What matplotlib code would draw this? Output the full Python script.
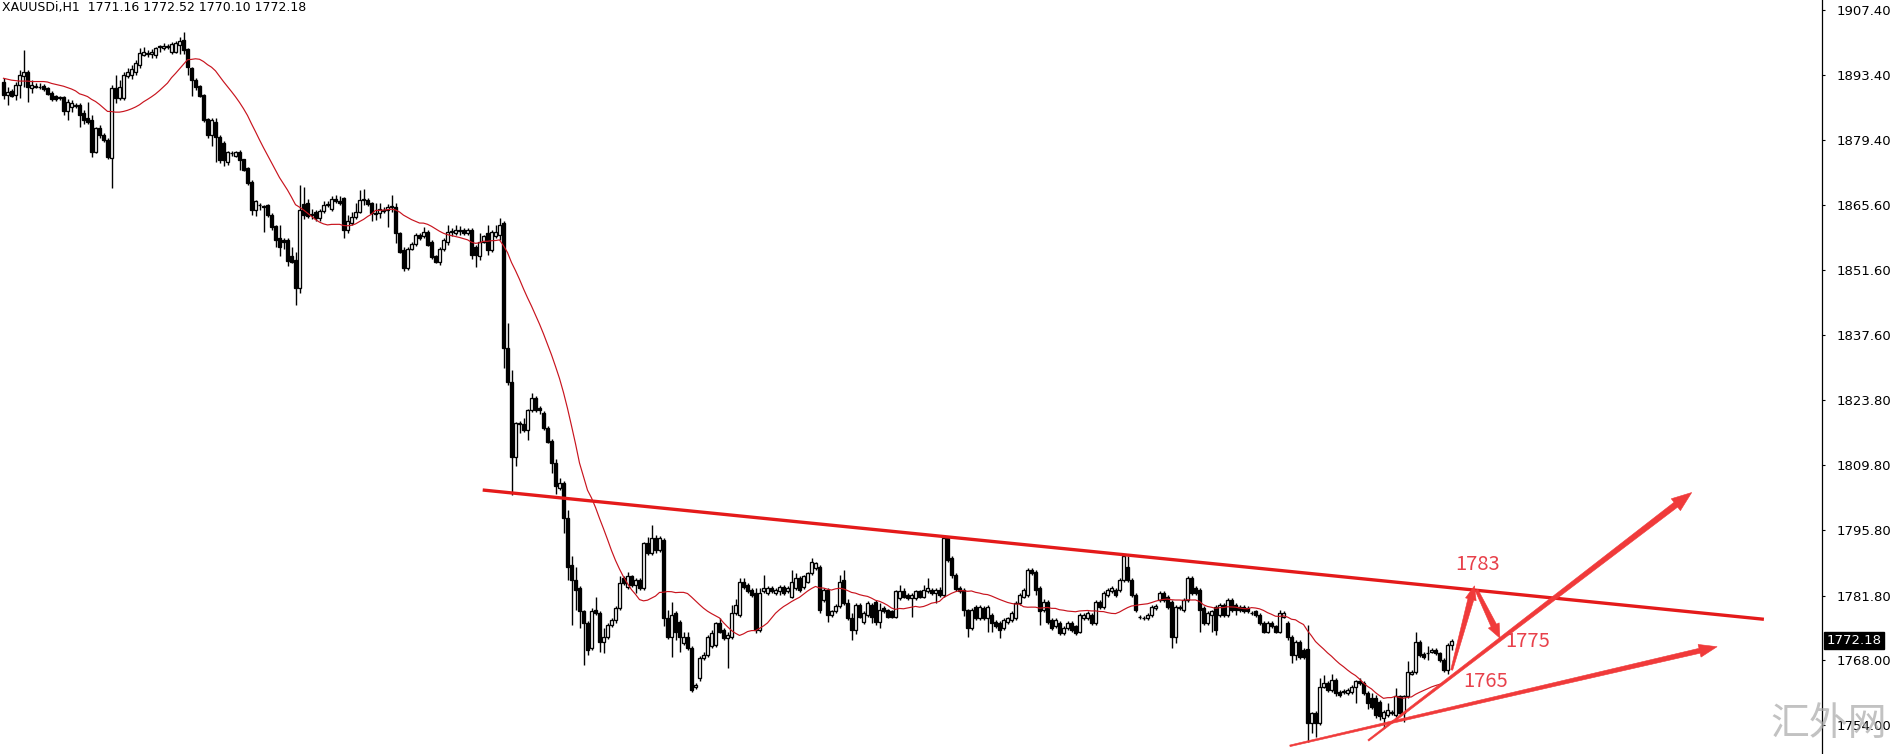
import numpy as np
import pandas as pd
import matplotlib
matplotlib.use("Agg")
import matplotlib.pyplot as plt
from matplotlib.patches import Polygon
from matplotlib.transforms import IdentityTransform

# ---------------- data (XAUUSDi, H1 candles) ----------------
opens = [
    1892.0, 1889.1, 1890.0, 1889.1, 1891.3, 1893.1, 1894.1, 1890.7, 1891.1, 1890.9, 1891.1, 1890.6, 1889.6, 1888.8, 1888.6, 1888.6, 1885.6, 1886.6, 1886.8, 1887.0,
    1885.2, 1884.1, 1883.8, 1877.0, 1882.0, 1880.6, 1879.5, 1875.6, 1890.6, 1888.4, 1888.4, 1893.2, 1893.4, 1894.1, 1895.6, 1897.7, 1898.0, 1897.8, 1897.7, 1899.5,
    1899.1, 1899.4, 1898.3, 1898.4, 1899.8, 1900.8, 1898.9, 1894.8, 1892.3, 1891.1, 1889.1, 1883.9, 1880.6, 1883.4, 1880.2, 1878.9, 1874.8, 1876.6, 1876.1, 1877.0,
    1875.3, 1873.4, 1870.5, 1864.5, 1865.5, 1865.4, 1865.5, 1863.4, 1861.0, 1858.4, 1858.0, 1858.0, 1854.5, 1853.8, 1847.7, 1865.8, 1866.0, 1863.6, 1864.0, 1862.7,
    1864.2, 1865.6, 1864.6, 1866.8, 1866.5, 1867.0, 1860.2, 1861.6, 1863.0, 1864.1, 1866.6, 1866.6, 1865.9, 1863.7, 1863.8, 1864.2, 1864.5, 1865.1, 1865.2, 1859.5,
    1855.9, 1852.0, 1856.2, 1857.2, 1859.1, 1858.8, 1859.8, 1857.7, 1854.6, 1853.4, 1856.0, 1857.7, 1859.8, 1859.5, 1860.0, 1860.2, 1859.5, 1860.2, 1856.6, 1854.5,
    1857.7, 1859.5, 1855.9, 1858.8, 1859.1, 1861.6, 1834.8, 1827.7, 1811.6, 1818.6, 1818.6, 1817.3, 1821.6, 1824.1, 1822.0, 1821.0, 1817.7, 1815.0, 1810.3, 1804.8,
    1806.0, 1798.4, 1788.4, 1785.2, 1783.4, 1778.4, 1776.0, 1770.5, 1778.7, 1778.0, 1771.9, 1773.0, 1775.5, 1776.6, 1779.1, 1785.5, 1783.7, 1785.9, 1784.1, 1785.2,
    1783.4, 1793.0, 1790.9, 1794.1, 1791.6, 1793.7, 1776.9, 1773.0, 1778.0, 1776.2, 1771.6, 1773.0, 1770.5, 1762.2, 1764.1, 1768.4, 1769.1, 1770.9, 1771.2, 1775.9,
    1774.4, 1772.7, 1773.0, 1778.0, 1777.7, 1784.8, 1784.1, 1783.0, 1782.3, 1774.4, 1782.7, 1782.3, 1783.4, 1782.3, 1782.7, 1783.7, 1782.7, 1781.6, 1783.4, 1785.5,
    1783.7, 1784.8, 1786.6, 1787.7, 1788.0, 1780.9, 1783.0, 1777.7, 1778.4, 1779.5, 1785.2, 1780.2, 1777.0, 1774.5, 1779.8, 1776.2, 1777.7, 1779.8, 1780.5, 1776.2,
    1779.1, 1778.7, 1778.4, 1777.3, 1781.2, 1782.7, 1781.9, 1781.2, 1781.2, 1782.7, 1781.6, 1782.7, 1783.0, 1782.3, 1783.0, 1782.0, 1794.1, 1789.8, 1786.2, 1783.4,
    1783.0, 1778.7, 1774.8, 1779.4, 1776.9, 1779.1, 1776.9, 1777.7, 1776.2, 1775.9, 1774.8, 1776.2, 1776.6, 1776.9, 1780.2, 1781.6, 1781.9, 1787.3, 1786.9, 1783.4,
    1778.7, 1780.5, 1776.6, 1775.2, 1775.9, 1773.7, 1774.8, 1775.9, 1775.2, 1774.1, 1776.9, 1776.9, 1777.7, 1775.9, 1780.5, 1779.4, 1781.9, 1782.7, 1783.0, 1783.0,
    1785.2, 1788.0, 1785.2, 1781.9, 1777.3, 1776.9, 1776.9, 1777.7, 1779.1, 1780.9, 1782.3, 1781.6, 1780.5, 1773.0, 1779.1, 1778.7, 1780.9, 1785.5, 1783.4, 1783.0,
    1779.1, 1775.9, 1777.7, 1779.4, 1777.7, 1779.8, 1777.7, 1780.9, 1779.8, 1779.4, 1779.4, 1779.1, 1778.0, 1778.4, 1777.7, 1775.9, 1774.1, 1775.9, 1775.2, 1774.1,
    1777.3, 1775.9, 1773.0, 1769.1, 1771.9, 1770.1, 1770.3, 1754.4, 1756.6, 1754.4, 1762.3, 1763.0, 1761.6, 1763.7, 1761.2, 1761.2, 1760.9, 1761.2, 1762.3, 1763.4,
    1763.0, 1760.9, 1759.8, 1759.8, 1759.1, 1755.5, 1756.2, 1756.6, 1756.2, 1760.2, 1756.6, 1760.2, 1765.1, 1765.5, 1771.9, 1769.3, 1769.4, 1769.8, 1770.1, 1769.4,
    1768.0, 1765.9, 1771.16,
]
highs = [
    1892.8, 1890.9, 1890.5, 1892.0, 1894.5, 1898.8, 1894.5, 1892.3, 1891.6, 1891.6, 1891.5, 1890.9, 1890.0, 1889.2, 1889.0, 1888.9, 1888.2, 1888.0, 1887.4, 1887.3,
    1886.0, 1887.7, 1884.8, 1882.3, 1882.6, 1881.0, 1880.0, 1891.3, 1893.4, 1892.3, 1894.0, 1895.0, 1895.5, 1896.6, 1899.2, 1899.5, 1898.8, 1899.0, 1899.5, 1899.9,
    1900.3, 1900.0, 1900.5, 1900.6, 1901.6, 1902.7, 1899.1, 1895.2, 1892.7, 1891.3, 1889.3, 1884.1, 1884.1, 1884.1, 1880.5, 1879.2, 1877.2, 1877.2, 1877.2, 1877.3,
    1875.5, 1873.6, 1870.9, 1866.6, 1866.0, 1865.6, 1865.8, 1863.8, 1861.2, 1861.2, 1858.4, 1858.4, 1856.6, 1855.5, 1869.8, 1869.4, 1866.8, 1864.6, 1864.5, 1864.6,
    1866.5, 1866.3, 1867.5, 1867.7, 1867.5, 1867.3, 1863.4, 1864.0, 1865.9, 1868.8, 1868.9, 1867.0, 1866.2, 1865.9, 1865.9, 1865.0, 1865.8, 1867.7, 1865.9, 1859.8,
    1856.6, 1856.6, 1857.7, 1859.5, 1859.5, 1860.8, 1860.2, 1858.0, 1854.8, 1856.6, 1858.4, 1861.2, 1860.5, 1861.2, 1861.0, 1860.7, 1860.6, 1860.6, 1857.0, 1859.5,
    1859.2, 1861.2, 1860.2, 1861.2, 1862.7, 1862.0, 1840.2, 1830.2, 1819.1, 1819.2, 1819.8, 1821.9, 1825.2, 1824.5, 1822.5, 1821.4, 1818.1, 1815.3, 1811.0, 1807.0,
    1806.4, 1800.2, 1790.2, 1788.0, 1783.8, 1778.8, 1776.3, 1779.1, 1781.6, 1778.4, 1774.8, 1776.0, 1777.0, 1779.5, 1785.9, 1785.9, 1786.9, 1786.3, 1785.6, 1785.6,
    1793.4, 1794.4, 1796.9, 1794.8, 1794.5, 1794.1, 1778.7, 1780.5, 1778.4, 1776.6, 1774.1, 1774.1, 1770.9, 1763.0, 1768.8, 1769.8, 1773.4, 1774.4, 1776.2, 1776.9,
    1774.8, 1774.1, 1779.8, 1781.0, 1785.5, 1785.5, 1784.5, 1783.4, 1783.4, 1783.4, 1786.2, 1783.8, 1783.8, 1783.4, 1784.1, 1784.1, 1783.8, 1787.3, 1786.6, 1785.9,
    1786.3, 1786.9, 1789.8, 1789.1, 1788.4, 1783.4, 1783.4, 1778.8, 1779.9, 1786.2, 1787.3, 1781.0, 1778.0, 1780.2, 1780.2, 1778.4, 1780.6, 1780.2, 1780.9, 1780.2,
    1779.5, 1779.0, 1778.8, 1783.1, 1784.1, 1783.4, 1782.3, 1782.3, 1783.0, 1783.0, 1784.1, 1785.5, 1783.4, 1783.4, 1783.6, 1794.8, 1794.5, 1790.2, 1786.6, 1783.8,
    1783.4, 1779.0, 1779.1, 1779.8, 1779.8, 1779.5, 1779.8, 1778.1, 1776.6, 1776.3, 1777.0, 1777.3, 1778.4, 1780.6, 1782.3, 1783.4, 1787.8, 1787.8, 1787.3, 1783.8,
    1781.0, 1780.9, 1777.0, 1777.0, 1776.3, 1775.2, 1776.3, 1776.3, 1775.6, 1778.1, 1778.1, 1778.4, 1778.1, 1780.9, 1780.9, 1782.7, 1783.4, 1783.8, 1783.4, 1785.6,
    1790.6, 1790.2, 1785.6, 1782.3, 1777.7, 1777.4, 1778.1, 1779.8, 1780.0, 1782.7, 1782.7, 1782.0, 1780.9, 1779.8, 1779.8, 1781.3, 1785.9, 1785.9, 1783.8, 1783.4,
    1779.5, 1778.4, 1778.8, 1779.8, 1780.2, 1780.2, 1781.3, 1781.3, 1780.2, 1779.8, 1779.8, 1779.5, 1778.4, 1778.8, 1778.1, 1776.3, 1776.3, 1776.3, 1775.6, 1778.7,
    1778.4, 1776.3, 1773.4, 1772.3, 1772.3, 1770.5, 1775.5, 1756.9, 1757.0, 1764.1, 1764.8, 1763.4, 1765.1, 1764.1, 1761.6, 1761.7, 1762.0, 1762.7, 1763.8, 1764.1,
    1763.4, 1761.3, 1760.9, 1760.5, 1759.5, 1757.3, 1758.7, 1757.3, 1761.9, 1760.5, 1760.5, 1767.7, 1765.9, 1774.1, 1772.3, 1769.7, 1770.9, 1770.5, 1770.5, 1769.8,
    1768.4, 1771.6, 1772.52,
]
lows = [
    1888.2, 1887.0, 1888.6, 1888.0, 1888.4, 1890.9, 1887.7, 1889.5, 1890.6, 1890.4, 1890.0, 1889.1, 1887.8, 1887.9, 1888.1, 1884.8, 1883.8, 1885.5, 1886.3, 1882.3,
    1883.0, 1883.0, 1875.9, 1876.6, 1879.8, 1879.0, 1875.5, 1869.1, 1887.3, 1888.0, 1888.0, 1892.8, 1892.6, 1893.4, 1895.0, 1897.5, 1897.3, 1897.0, 1897.0, 1898.4,
    1898.8, 1898.9, 1898.0, 1898.1, 1898.0, 1898.0, 1893.4, 1888.8, 1890.2, 1888.6, 1883.4, 1880.0, 1878.1, 1874.8, 1874.5, 1874.0, 1874.1, 1876.0, 1875.8, 1873.1,
    1872.8, 1869.8, 1863.4, 1863.1, 1864.5, 1859.8, 1863.0, 1860.2, 1856.6, 1854.5, 1856.0, 1852.5, 1853.0, 1844.1, 1846.6, 1862.6, 1862.8, 1862.6, 1862.0, 1862.2,
    1863.8, 1865.0, 1864.2, 1866.0, 1865.5, 1858.4, 1859.5, 1861.2, 1862.6, 1863.8, 1865.5, 1865.3, 1862.0, 1862.3, 1862.7, 1863.8, 1860.9, 1864.1, 1857.3, 1855.2,
    1851.3, 1851.6, 1855.8, 1856.8, 1858.0, 1858.4, 1856.8, 1854.0, 1853.0, 1852.7, 1855.6, 1857.0, 1858.8, 1859.0, 1859.1, 1859.0, 1859.1, 1854.0, 1852.3, 1853.8,
    1857.3, 1854.8, 1855.5, 1858.4, 1858.0, 1830.5, 1827.0, 1803.4, 1809.5, 1816.6, 1816.9, 1815.2, 1821.2, 1821.2, 1820.8, 1817.3, 1814.5, 1808.0, 1803.5, 1804.4,
    1795.2, 1785.2, 1775.5, 1778.7, 1774.8, 1767.0, 1769.1, 1770.1, 1777.6, 1769.8, 1769.4, 1772.6, 1775.1, 1775.9, 1778.7, 1784.0, 1783.3, 1783.7, 1782.3, 1783.0,
    1783.0, 1790.5, 1790.5, 1790.9, 1791.2, 1775.2, 1772.6, 1768.7, 1772.3, 1769.8, 1771.2, 1770.1, 1761.2, 1761.8, 1763.4, 1768.0, 1768.7, 1770.5, 1770.8, 1773.7,
    1772.3, 1766.2, 1772.6, 1777.6, 1777.3, 1783.3, 1782.3, 1781.5, 1773.7, 1774.0, 1782.3, 1781.9, 1782.3, 1781.9, 1782.0, 1781.9, 1782.3, 1781.2, 1783.0, 1782.6,
    1783.3, 1784.4, 1786.2, 1787.3, 1778.0, 1780.5, 1776.2, 1777.3, 1778.0, 1779.1, 1779.8, 1776.5, 1772.3, 1773.5, 1777.0, 1775.8, 1777.3, 1775.9, 1775.5, 1774.8,
    1778.0, 1776.9, 1776.9, 1777.0, 1780.9, 1781.3, 1780.9, 1777.3, 1780.9, 1781.2, 1781.2, 1782.3, 1781.9, 1780.2, 1781.5, 1781.6, 1789.0, 1785.5, 1782.7, 1782.3,
    1777.5, 1773.0, 1774.4, 1776.5, 1776.5, 1776.5, 1774.1, 1774.1, 1774.8, 1772.7, 1774.4, 1775.8, 1776.2, 1776.5, 1779.8, 1781.2, 1781.5, 1786.2, 1781.9, 1775.5,
    1778.3, 1775.8, 1774.4, 1774.8, 1773.3, 1773.3, 1774.4, 1774.0, 1773.3, 1773.7, 1776.5, 1776.5, 1775.5, 1775.5, 1779.0, 1779.0, 1781.5, 1782.3, 1781.6, 1782.6,
    1784.8, 1784.8, 1781.5, 1778.3, 1776.8, 1776.5, 1776.5, 1777.3, 1778.7, 1780.5, 1780.5, 1779.0, 1770.5, 1771.6, 1778.7, 1778.3, 1780.5, 1781.9, 1781.9, 1774.1,
    1775.5, 1775.5, 1774.1, 1773.4, 1777.3, 1777.3, 1777.3, 1778.3, 1777.7, 1778.3, 1778.0, 1778.0, 1777.6, 1777.3, 1775.5, 1773.7, 1773.7, 1774.8, 1773.7, 1773.7,
    1776.9, 1772.3, 1767.3, 1768.0, 1768.3, 1768.3, 1750.5, 1752.3, 1751.5, 1754.0, 1761.9, 1761.2, 1761.2, 1760.2, 1760.1, 1760.8, 1760.5, 1760.8, 1758.7, 1762.6,
    1760.5, 1757.6, 1757.6, 1755.5, 1755.2, 1753.4, 1755.8, 1756.2, 1755.8, 1756.2, 1754.8, 1759.8, 1764.7, 1765.1, 1768.7, 1768.3, 1768.0, 1769.4, 1769.0, 1767.6,
    1765.5, 1765.1, 1770.10,
]
closes = [
    1889.1, 1889.8, 1888.9, 1891.3, 1893.4, 1894.1, 1890.9, 1891.3, 1890.9, 1890.8, 1890.4, 1889.3, 1888.2, 1888.2, 1888.5, 1885.6, 1887.7, 1887.3, 1886.9, 1884.8,
    1883.8, 1883.4, 1877.0, 1882.0, 1880.6, 1879.5, 1875.8, 1890.6, 1888.4, 1890.9, 1893.4, 1894.1, 1894.6, 1895.9, 1898.1, 1898.3, 1898.1, 1898.4, 1899.1, 1899.4,
    1899.7, 1899.5, 1900.1, 1900.2, 1900.6, 1898.8, 1895.2, 1892.3, 1890.9, 1888.8, 1883.8, 1880.6, 1883.8, 1880.1, 1875.2, 1875.2, 1877.0, 1876.7, 1876.8, 1875.2,
    1873.1, 1870.2, 1864.5, 1866.3, 1865.6, 1865.2, 1863.4, 1860.9, 1858.1, 1856.6, 1857.5, 1853.5, 1853.4, 1847.7, 1864.5, 1863.3, 1863.2, 1863.4, 1862.7, 1864.2,
    1865.6, 1865.7, 1866.8, 1866.3, 1865.9, 1860.2, 1862.0, 1863.0, 1864.1, 1866.6, 1866.8, 1865.7, 1863.8, 1863.8, 1864.6, 1864.5, 1865.2, 1865.2, 1859.5, 1855.5,
    1852.0, 1856.2, 1857.2, 1859.1, 1858.4, 1859.8, 1857.0, 1854.3, 1853.4, 1856.2, 1858.0, 1859.8, 1859.9, 1860.2, 1860.1, 1859.5, 1860.2, 1854.8, 1854.8, 1857.7,
    1858.8, 1855.9, 1859.8, 1859.8, 1861.2, 1834.8, 1827.7, 1811.6, 1818.8, 1818.7, 1817.3, 1821.6, 1824.1, 1821.6, 1821.5, 1817.7, 1814.8, 1810.2, 1805.2, 1806.0,
    1798.4, 1788.0, 1785.2, 1783.0, 1778.4, 1775.9, 1770.2, 1778.4, 1778.0, 1771.9, 1773.0, 1775.5, 1776.6, 1779.1, 1784.4, 1784.4, 1785.9, 1784.1, 1785.2, 1783.4,
    1793.0, 1790.9, 1794.1, 1791.6, 1794.1, 1776.9, 1773.0, 1777.7, 1774.1, 1773.0, 1773.0, 1770.5, 1761.6, 1762.6, 1768.4, 1769.1, 1773.0, 1773.7, 1775.9, 1774.1,
    1772.7, 1773.4, 1778.0, 1779.8, 1784.8, 1783.7, 1782.7, 1781.9, 1774.4, 1782.3, 1783.4, 1783.4, 1782.7, 1783.0, 1783.7, 1782.3, 1783.4, 1784.8, 1785.5, 1783.0,
    1785.9, 1786.6, 1789.1, 1788.7, 1778.7, 1783.0, 1777.7, 1778.4, 1779.5, 1784.8, 1780.2, 1777.0, 1774.5, 1779.8, 1777.3, 1778.0, 1780.2, 1777.3, 1776.2, 1778.7,
    1778.4, 1777.3, 1777.3, 1782.7, 1782.7, 1781.6, 1781.2, 1781.9, 1782.7, 1781.6, 1783.0, 1783.4, 1782.3, 1783.0, 1782.0, 1794.1, 1789.5, 1786.2, 1783.2, 1782.7,
    1778.7, 1774.8, 1778.7, 1776.9, 1779.4, 1776.9, 1779.4, 1775.9, 1775.2, 1774.4, 1776.6, 1776.9, 1778.0, 1780.2, 1781.9, 1783.0, 1787.3, 1786.6, 1783.0, 1778.4,
    1780.5, 1776.2, 1774.8, 1776.6, 1773.7, 1774.8, 1775.9, 1774.4, 1773.7, 1777.7, 1777.7, 1778.0, 1775.9, 1780.5, 1779.4, 1782.3, 1783.0, 1783.4, 1782.0, 1785.2,
    1790.2, 1785.2, 1781.9, 1778.7, 1777.2, 1777.0, 1777.7, 1779.4, 1779.6, 1782.3, 1780.9, 1779.4, 1773.0, 1779.4, 1779.4, 1780.9, 1785.5, 1782.3, 1782.3, 1778.7,
    1775.9, 1778.0, 1778.4, 1774.4, 1779.8, 1777.7, 1780.9, 1778.7, 1778.7, 1778.7, 1778.4, 1778.4, 1778.1, 1777.7, 1775.9, 1774.1, 1775.9, 1775.2, 1774.1, 1778.0,
    1778.0, 1773.0, 1769.1, 1771.9, 1768.7, 1768.7, 1754.4, 1756.6, 1754.4, 1762.3, 1763.0, 1761.6, 1763.7, 1760.9, 1760.5, 1761.3, 1761.6, 1762.3, 1763.4, 1763.0,
    1760.9, 1758.7, 1758.0, 1756.2, 1755.9, 1756.9, 1757.3, 1756.9, 1760.2, 1756.6, 1760.2, 1765.5, 1765.5, 1771.9, 1769.1, 1768.7, 1769.5, 1770.1, 1769.4, 1768.0,
    1765.9, 1771.2, 1772.18,
]
# moving average values for the first bars (history before the window)
ma_head = [1892.7, 1892.5, 1892.3, 1892.2, 1892.1, 1892.1, 1892.1, 1892.0, 1892.0, 1892.0,
           1892.0, 1891.9, 1891.6, 1891.4, 1891.2, 1891.0, 1890.7, 1890.4, 1890.0]
ma_period = 20

y_ticks = [1907.40, 1893.40, 1879.40, 1865.60, 1851.60, 1837.60, 1823.80,
           1809.80, 1795.80, 1781.80, 1768.00, 1754.00]
title_text = "XAUUSDi,H1  1771.16 1772.52 1770.10 1772.18"
last_price = 1772.18
watermark = "汇外网"

# drawn annotations: (bar index, price)
resistance_line = [(119.8, 1804.44), (440.1, 1776.73)]
# (start, end, tail width px, shaft width px, head width px, head length px)
arrows = [
    ((321.6, 1749.6), (428.4, 1770.85), 1.6, 5.0, 13.0, 18.0),
    ((341.2, 1750.75), (422.05, 1803.9), 1.6, 6.0, 15.0, 20.0),
    ((362.05, 1765.86), (367.75, 1783.9), 2.0, 6.0, 11.0, 14.0),
    ((368.25, 1783.0), (374.1, 1772.7), 3.0, 6.0, 12.0, 14.0),
]
level_labels = [("1783", 368.5, 1787.33), ("1775", 381.0, 1770.85), ("1765", 370.6, 1762.3)]

# ---------------- figure ----------------
W, H = 1897, 754
AX_W = 1822
fig = plt.figure(figsize=(W / 100, H / 100), dpi=100)
fig.patch.set_facecolor("white")
ax = fig.add_axes([0, 0, AX_W / W, 1])
ax.set_facecolor("white")

n = len(closes)
idx = np.arange(n)
o = np.array(opens); h = np.array(highs); l = np.array(lows); c = np.array(closes)

ax.set_xlim(-0.875, (AX_W - 3.5) / 4.0)
ax.set_ylim(1747.85, 1909.48)

# wicks
ax.vlines(idx, l, h, color="black", lw=1.0, zorder=2)
# bodies
up = c >= o
bottom = np.minimum(o, c)
height = np.maximum(np.abs(c - o), 0.12)
ax.bar(idx[up], height[up], bottom=bottom[up], width=0.52, facecolor="white",
       edgecolor="black", lw=0.95, zorder=3)
ax.bar(idx[~up], height[~up], bottom=bottom[~up], width=0.52, facecolor="black",
       edgecolor="black", lw=0.95, zorder=3)

# moving average
ma = pd.Series(closes).rolling(ma_period).mean().to_numpy()
ma[:len(ma_head)] = ma_head
ax.plot(idx, ma, color="#c8141e", lw=0.85, zorder=4)

# resistance trend line
(rx0, ry0), (rx1, ry1) = resistance_line
ax.plot([rx0, rx1], [ry0, ry1], color="#e41a1a", lw=2.4, solid_capstyle="butt", zorder=5)


def tapered_arrow(p0, p1, w0, w1, hw, hl, color):
    a = ax.transData.transform(p0)
    b = ax.transData.transform(p1)
    d = b - a
    L = np.hypot(d[0], d[1])
    u = d / L
    nrm = np.array([-u[1], u[0]])
    base = b - u * hl
    pts = [a + nrm * w0 / 2, base + nrm * w1 / 2, base + nrm * hw / 2, b,
           base - nrm * hw / 2, base - nrm * w1 / 2, a - nrm * w0 / 2]
    ax.add_patch(Polygon(pts, closed=True, transform=IdentityTransform(),
                         facecolor=color, edgecolor=color, lw=0.4, zorder=6))


for p0, p1, w0, w1, hw, hl in arrows:
    tapered_arrow(p0, p1, w0, w1, hw, hl, "#f03a3a")

for txt, xi, yp in level_labels:
    ax.text(xi, yp, txt, color="#e8414b", fontsize=14.5, ha="center", va="baseline",
            family=["Noto Sans CJK SC", "DejaVu Sans"], zorder=7)

# axes styling (MT4 like price scale on the right)
for s in ("top", "left", "bottom"):
    ax.spines[s].set_visible(False)
ax.spines["right"].set_color("black")
ax.spines["right"].set_linewidth(0.9)
ax.set_xticks([])
ax.yaxis.tick_right()
ax.set_yticks(y_ticks)
ax.set_yticklabels([f"{v:.2f}" for v in y_ticks])
ax.tick_params(axis="y", direction="out", length=2.5, width=0.8, pad=8,
               labelsize=9.5, colors="black")

# current price box
ax.annotate(f"{last_price:.2f}", xy=(1.0, last_price), xycoords=("axes fraction", "data"),
            xytext=(3.2, 0), textcoords="offset points", ha="left", va="center",
            color="white", fontsize=9.5, annotation_clip=False, zorder=8,
            bbox=dict(boxstyle="square,pad=0.18", fc="black", ec="black"))

# title
fig.text(2 / W, 1 - 1 / H, title_text, ha="left", va="top", fontsize=9, color="black")

# watermark
fig.text(1829 / W, 1 - 724 / H, watermark, ha="center", va="center", fontsize=28,
         color="#a8a8a8", alpha=0.7, family=["Noto Sans CJK SC"], zorder=10)

fig.savefig("out.png", dpi=100, facecolor="white")
